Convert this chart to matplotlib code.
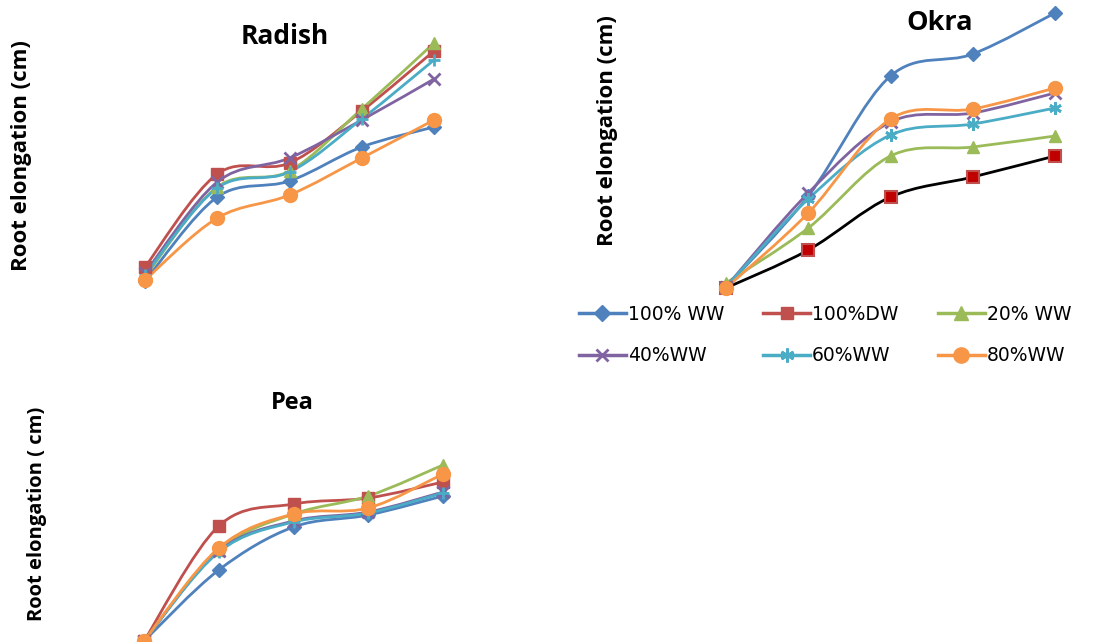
import numpy as np
import matplotlib
matplotlib.use("Agg")
import matplotlib.pyplot as plt
from matplotlib.path import Path
from matplotlib.patches import PathPatch
from matplotlib.lines import Line2D

# relative root elongation (no scale shown in the source chart)
days = [0, 1, 2, 3, 4]
series = ["100% WW", "100%DW", "20% WW", "40%WW", "60%WW", "80%WW"]

radish = {
    "100% WW": [1.9, 10.3, 11.9, 15.3, 17.3],
    "100%DW": [3.3, 12.6, 13.7, 18.9, 24.9],
    "20% WW": [2.3, 11.3, 12.9, 19.1, 25.7],
    "40%WW": [2.7, 11.8, 14.2, 18.0, 22.1],
    "60%WW": [2.5, 11.2, 12.8, 18.1, 24.0],
    "80%WW": [2.0, 8.2, 10.5, 14.2, 18.0],
}
okra = {
    "100% WW": [1.3, 10.4, 22.4, 24.6, 28.7],
    "100%DW": [1.2, 5.0, 10.3, 12.3, 14.4],
    "20% WW": [1.7, 7.2, 14.4, 15.3, 16.4],
    "40%WW": [1.3, 10.7, 17.8, 18.7, 20.7],
    "60%WW": [1.3, 10.1, 16.5, 17.6, 19.2],
    "80%WW": [1.2, 8.7, 18.1, 19.1, 21.2],
}
pea = {
    "100% WW": [0.9, 8.0, 12.3, 13.5, 15.4],
    "100%DW": [0.9, 12.4, 14.6, 15.2, 16.8],
    "20% WW": [0.9, 10.0, 13.6, 15.4, 18.5],
    "40%WW": [0.9, 9.9, 12.9, 13.8, 15.8],
    "60%WW": [0.9, 9.8, 12.8, 13.7, 15.7],
    "80%WW": [0.9, 10.2, 13.6, 14.2, 17.6],
}

colors = {"100% WW": "#4F81BD", "100%DW": "#C0504D", "20% WW": "#9BBB59",
          "40%WW": "#8064A2", "60%WW": "#4BACC6", "80%WW": "#F79646"}
markers = {"100% WW": "D", "100%DW": "s", "20% WW": "^",
           "40%WW": "x", "60%WW": (6, 2, 0), "80%WW": "o"}
msizes = {"100% WW": 7, "100%DW": 8, "20% WW": 9, "40%WW": 8, "60%WW": 9, "80%WW": 10}


def smooth(ax, x, y, color, lw=2.0):
    pts = np.column_stack([x, y]).astype(float)
    n = len(pts)
    verts = [pts[0]]
    codes = [Path.MOVETO]
    for i in range(n - 1):
        p0 = pts[i - 1] if i > 0 else pts[i]
        p1, p2 = pts[i], pts[i + 1]
        p3 = pts[i + 2] if i + 2 < n else pts[i + 1]
        verts += [p1 + (p2 - p0) / 6, p2 - (p3 - p1) / 6, p2]
        codes += [Path.CURVE4] * 3
    ax.add_patch(PathPatch(Path(verts, codes), fc="none", ec=color, lw=lw,
                           capstyle="round", joinstyle="round", clip_on=False))


def panel(ax, data, line_over=None, mk_over=None):
    for s in series:
        c = colors[s]
        lc = (line_over or {}).get(s, c)
        smooth(ax, days, data[s], lc)
    for s in series:
        c = colors[s]
        m = (mk_over or {}).get(s, markers[s])
        kw = dict(marker=m, ms=msizes[s], ls="none", clip_on=False, zorder=3)
        if s == "100%DW" and line_over:
            kw.update(mfc="#C00000", mec="#C0504D", mew=1.5)
        else:
            kw.update(color=c, mec=c, mew=2 if m in ("x", "+", (6, 2, 0)) else 1)
        ax.plot(days, data[s], **kw)
    ax.axis("off")


W, H = 1101, 642
fig = plt.figure(figsize=(W / 100, H / 100), dpi=100)


def add_axes_px(left, top, right, bottom):
    return fig.add_axes([left / W, 1 - bottom / H, (right - left) / W, (bottom - top) / H])


# Radish
ax1 = add_axes_px(100, 20, 460, 300)
ax1.set_xlim((100 - 145) / 72.25, (460 - 145) / 72.25)
ax1.set_ylim(0, 28)
panel(ax1, radish, mk_over={"60%WW": "+"})

# Okra
ax2 = add_axes_px(680, 0, 1090, 300)
ax2.set_xlim((680 - 726) / 82.25, (1090 - 726) / 82.25)
ax2.set_ylim(0, 30)
panel(ax2, okra, line_over={"100%DW": "black"})

# Pea
ax3 = add_axes_px(100, 430, 480, 642)
ax3.set_xlim((100 - 144) / 74.75, (480 - 144) / 74.75)
ax3.set_ylim(0.8, 22)
panel(ax3, pea, mk_over={"60%WW": "+"})

tfont = dict(family="Open Sans", weight="bold")
fig.text(285 / W, 1 - 37 / H, "Radish", fontsize=19, ha="center", va="center", **tfont)
fig.text(940 / W, 1 - 23 / H, "Okra", fontsize=19.5, ha="center", va="center", **tfont)
fig.text(292 / W, 1 - 403 / H, "Pea", fontsize=17, ha="center", va="center", **tfont)
fig.text(22 / W, 1 - 156 / H, "Root elongation (cm)", fontsize=16, rotation=90,
         ha="center", va="center", **tfont)
fig.text(608 / W, 1 - 131 / H, "Root elongation (cm)", fontsize=16, rotation=90,
         ha="center", va="center", **tfont)
fig.text(37 / W, 1 - 514 / H, "Root elongation ( cm)", fontsize=14.5, rotation=90,
         ha="center", va="center", **tfont)

handles = []
for s in series:
    m = markers[s]
    handles.append(Line2D([], [], color=colors[s], lw=2.5, marker=m, ms=msizes[s] + 1,
                          mec=colors[s], mew=2 if m in ("x", (6, 2, 0)) else 1))
order = [0, 3, 1, 4, 2, 5]
fig.legend([handles[i] for i in order], [series[i] for i in order],
           loc="upper left", bbox_to_anchor=(562 / W, 1 - 288 / H), ncol=3,
           frameon=False, handlelength=2.5, handletextpad=0.1,
           columnspacing=2.1, labelspacing=1.2,
           prop={"family": "DejaVu Sans", "size": 13.5})

fig.savefig("out.png", dpi=100)
